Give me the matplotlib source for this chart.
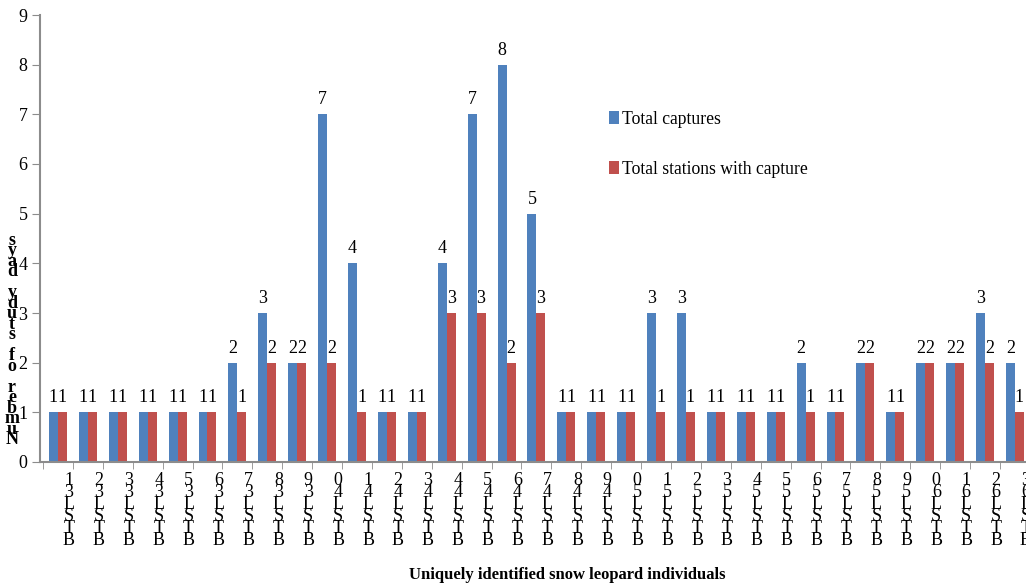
import numpy as np
import matplotlib
matplotlib.use("Agg")
import matplotlib.pyplot as plt

# data
ids = ["BTSL%d" % n for n in range(31, 64)]
captures = [1, 1, 1, 1, 1, 1, 2, 3, 2, 7, 4, 1, 1, 4, 7, 8, 5,
            1, 1, 1, 3, 3, 1, 1, 1, 2, 1, 2, 1, 2, 2, 3, 2]
stations = [1, 1, 1, 1, 1, 1, 1, 2, 2, 2, 1, 1, 1, 3, 3, 2, 3,
            1, 1, 1, 1, 1, 1, 1, 1, 1, 1, 2, 1, 2, 2, 2, 1]
y_ticks = list(range(0, 10))

blue = "#4F81BD"
red = "#C0504D"
gray = "#8C8C8C"
serif = "Liberation Serif"

plt.rcParams["font.family"] = serif

fig = plt.figure(figsize=(10.26, 5.85), dpi=100)
ax = fig.add_axes([40 / 1026, 1 - 462 / 585, 1 - 40 / 1026, (462 - 15) / 585])

x = np.arange(len(ids))
w = 0.3
b1 = ax.bar(x - w / 2, captures, w, color=blue, label="Total captures")
b2 = ax.bar(x + w / 2, stations, w, color=red, label="Total stations with capture")

for rect, v in zip(b1, captures):
    ax.text(rect.get_x() + rect.get_width() / 2, v + 0.12, str(v),
            ha="center", va="bottom", fontsize=13)
for rect, v in zip(b2, stations):
    ax.text(rect.get_x() + rect.get_width() / 2, v + 0.12, str(v),
            ha="center", va="bottom", fontsize=13)

ax.set_xlim(-0.6, -0.6 + 986 / 30)
ax.set_ylim(0, 9)
ax.set_yticks(y_ticks)
ax.tick_params(axis="y", length=6, color=gray, labelsize=13, pad=3)

# boundaries get tick marks, labels sit a bit right of group centre
ax.set_xticks(x - 0.5, minor=True)
ax.set_xticks(x + 0.37)
ax.set_xticklabels(["\n".join(reversed(s)) for s in ids],
                   fontsize=13, linespacing=0.62, va="top")
ax.tick_params(axis="x", which="major", length=0, pad=7)
ax.tick_params(axis="x", which="minor", length=5, color=gray)

for s in ["top", "right"]:
    ax.spines[s].set_visible(False)
for s in ["left", "bottom"]:
    ax.spines[s].set_color(gray)
    ax.spines[s].set_linewidth(1.5)

ax.legend(loc="upper left", bbox_to_anchor=(553 / 986, 1 - 80 / 447),
          frameon=False, fontsize=12.7, handlelength=0.55, handleheight=0.8,
          handletextpad=0.2, labelspacing=1.85)

fig.text(12 / 1026, 1 - 340 / 585, "\n".join(reversed("Number of study days")),
         ha="center", va="center", fontsize=13, fontweight="bold",
         linespacing=0.5)
fig.text(567 / 1026, 1 - 575 / 585, "Uniquely identified snow leopard individuals",
         ha="center", va="center", fontsize=12, fontweight="bold")

fig.savefig("out.png", dpi=100)
